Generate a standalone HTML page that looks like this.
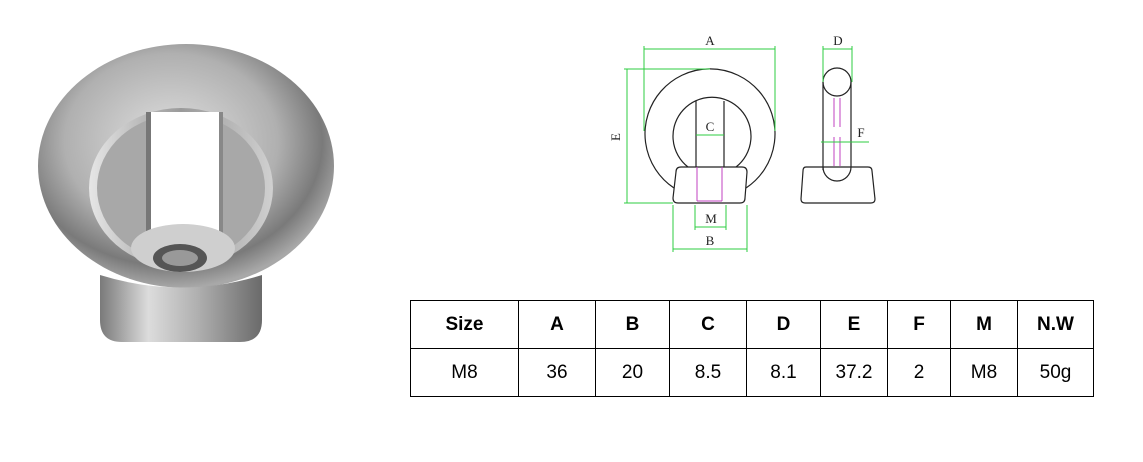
<!DOCTYPE html>
<html><head><meta charset="utf-8"><style>
html,body{margin:0;padding:0;background:#fff;width:1143px;height:462px;overflow:hidden;position:relative}
table{position:absolute;left:410px;top:300px;border-collapse:collapse;font-family:"Liberation Sans",Arial,sans-serif;font-size:19px;color:#000}
td{border:1px solid #000;text-align:center;height:47px;padding:0}
tr:first-child td{font-weight:bold}
</style></head><body>
<svg width="1143" height="462" style="position:absolute;left:0;top:0">
<defs>
<radialGradient id="ring" cx="45%" cy="40%" r="60%">
<stop offset="0" stop-color="#e0e0e0"/><stop offset="0.6" stop-color="#b0b0b0"/><stop offset="0.85" stop-color="#7a7a7a"/><stop offset="1" stop-color="#a8a8a8"/></radialGradient>
<linearGradient id="inner" x1="0" y1="0" x2="1" y2="0">
<stop offset="0" stop-color="#e6e6e6"/><stop offset="0.5" stop-color="#9a9a9a"/><stop offset="1" stop-color="#d0d0d0"/></linearGradient>
<linearGradient id="base" x1="0" y1="0" x2="1" y2="0">
<stop offset="0" stop-color="#7a7a7a"/><stop offset="0.3" stop-color="#dcdcdc"/><stop offset="0.6" stop-color="#b0b0b0"/><stop offset="1" stop-color="#6a6a6a"/></linearGradient>
</defs>
<!-- photo -->
<ellipse cx="186" cy="166" rx="148" ry="122" fill="url(#ring)"/>
<ellipse cx="181" cy="188" rx="92" ry="80" fill="url(#inner)"/>
<ellipse cx="181" cy="188" rx="84" ry="74" fill="#a8a8a8"/>
<rect x="150" y="112" width="70" height="120" fill="#fff"/>
<rect x="146" y="112" width="5" height="125" fill="#777"/>
<rect x="219" y="112" width="4" height="125" fill="#888"/>
<path d="M100 275 Q181 300 262 275 L262 320 Q262 342 240 342 L122 342 Q100 342 100 320 Z" fill="url(#base)"/>
<ellipse cx="183" cy="248" rx="52" ry="24" fill="#cfcfcf"/>
<ellipse cx="180" cy="258" rx="27" ry="14" fill="#555"/>
<ellipse cx="180" cy="258" rx="18" ry="8" fill="#999"/>
<!-- drawing -->
<g fill="none" stroke="#222" stroke-width="1.2">
<path d="M674 188 A65 65 0 1 1 746 188"/>
<path d="M688 167 A39 39 0 1 1 736 167"/>
<line x1="696" y1="101" x2="696" y2="167"/><line x1="724" y1="101" x2="724" y2="167"/>
<path d="M676 172 Q676 167 681 167 L742 167 Q747 167 747 172 L745 198 Q745 203 740 203 L678 203 Q673 203 673 198 Z" fill="#fff"/>
<circle cx="837" cy="82" r="14"/>
<path d="M823 82 L823 167 A14 14 0 0 0 851 167 L851 82"/>
<path d="M806 167 L868 167 Q872 167 872 171 L875 199 Q875 203 871 203 L805 203 Q801 203 801 199 L803 171 Q803 167 806 167 Z" fill="#fff"/>
<path d="M823 167 A14 14 0 0 0 851 167"/>
<line x1="823" y1="167" x2="823" y2="170"/>
</g>
<g stroke="#c040c0" stroke-width="1" fill="none">
<line x1="697" y1="167" x2="697" y2="201"/><line x1="722" y1="167" x2="722" y2="201"/><line x1="697" y1="201" x2="722" y2="201"/>
<line x1="834" y1="98" x2="834" y2="127"/><line x1="840" y1="98" x2="840" y2="127"/>
<line x1="834" y1="137" x2="834" y2="166"/><line x1="840" y1="137" x2="840" y2="166"/>
</g>
<g stroke="#2ecc40" stroke-width="1" fill="none">
<line x1="644" y1="49" x2="775" y2="49"/><line x1="644" y1="46" x2="644" y2="131"/><line x1="775" y1="46" x2="775" y2="131"/>
<line x1="627" y1="69" x2="627" y2="203"/><line x1="624" y1="69" x2="710" y2="69"/><line x1="624" y1="203" x2="673" y2="203"/>
<line x1="696" y1="135" x2="724" y2="135"/>
<line x1="695" y1="227" x2="726" y2="227"/><line x1="695" y1="205" x2="695" y2="230"/><line x1="726" y1="205" x2="726" y2="230"/>
<line x1="673" y1="249" x2="747" y2="249"/><line x1="673" y1="205" x2="673" y2="252"/><line x1="747" y1="205" x2="747" y2="252"/>
<line x1="823" y1="49" x2="852" y2="49"/><line x1="823" y1="46" x2="823" y2="82"/><line x1="852" y1="46" x2="852" y2="82"/>
<line x1="821" y1="142" x2="869" y2="142"/>
</g>
<g font-family="Liberation Serif,serif" font-size="13" fill="#222" text-anchor="middle">
<text x="710" y="45">A</text><text x="838" y="45">D</text><text x="710" y="131">C</text>
<text x="861" y="137">F</text><text x="711" y="223">M</text><text x="710" y="245">B</text>
<text x="620" y="137" transform="rotate(-90 620 137)">E</text>
</g>
</svg>
<table>
<tr><td style="width:107px">Size</td><td style="width:76px">A</td><td style="width:73px">B</td><td style="width:76px">C</td><td style="width:73px">D</td><td style="width:66px">E</td><td style="width:62px">F</td><td style="width:66px">M</td><td style="width:75px">N.W</td></tr>
<tr><td>M8</td><td>36</td><td>20</td><td>8.5</td><td>8.1</td><td>37.2</td><td>2</td><td>M8</td><td>50g</td></tr>
</table>
</body></html>
